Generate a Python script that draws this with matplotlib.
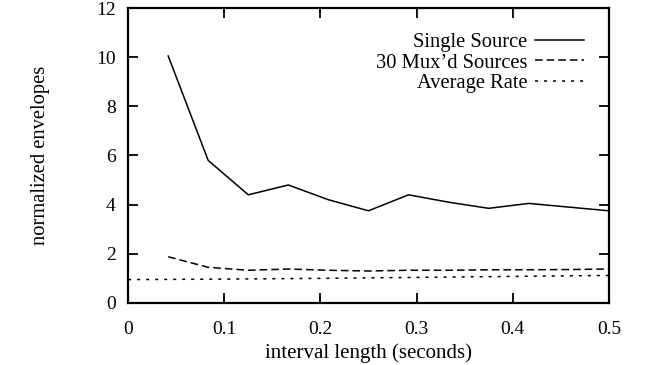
import matplotlib
matplotlib.use("Agg")
import matplotlib.pyplot as plt

interval = [0.0417, 0.0833, 0.125, 0.1667, 0.2083, 0.25, 0.2917, 0.3333, 0.375, 0.4167, 0.4583, 0.5]
single_source = [10.05, 5.8, 4.4, 4.8, 4.2, 3.75, 4.4, 4.1, 3.85, 4.05, 3.9, 3.75]
mux_sources = [1.88, 1.45, 1.33, 1.38, 1.33, 1.3, 1.33, 1.33, 1.35, 1.35, 1.36, 1.38]
avg_x = [0.0, 0.1, 0.2, 0.3, 0.4, 0.5]
avg_rate = [0.95, 0.97, 1.0, 1.04, 1.08, 1.12]

plt.rcParams['font.family'] = ['Liberation Serif', 'DejaVu Serif']

fig = plt.figure(figsize=(6.47, 3.65), dpi=100)
ax = fig.add_axes([0.198, 0.170, 0.743, 0.808])

ax.plot(interval, single_source, color='black', lw=1.1, label='Single Source')
ax.plot(interval, mux_sources, color='black', lw=1.1, dashes=(5, 2.6), label="30 Mux\u2019d Sources")
ax.plot(avg_x, avg_rate, color='black', lw=1.1, dashes=(2, 3.9), label='Average Rate')

ax.set_xlim(0, 0.5)
ax.set_ylim(0, 12)
ax.set_xticks([0, 0.1, 0.2, 0.3, 0.4, 0.5])
ax.set_xticklabels(['0', '0.1', '0.2', '0.3', '0.4', '0.5'])
ax.set_yticks([0, 2, 4, 6, 8, 10, 12])
ax.tick_params(direction='in', top=True, right=True, length=7, width=1.3, labelsize=14)
ax.tick_params(axis='y', pad=9)
ax.tick_params(axis='x', pad=13)
for s in ax.spines.values():
    s.set_linewidth(1.6)

ax.set_xlabel('interval length (seconds)', fontsize=15, labelpad=3.5)
ax.set_ylabel('normalized envelopes', fontsize=14.8, labelpad=33)

leg = ax.legend(loc='upper right', frameon=False, markerfirst=False, fontsize=14.8,
                handlelength=2.4, labelspacing=0.05, borderaxespad=0.8, borderpad=0.4,
                handletextpad=0.35)
for t in leg.get_texts():
    t.set_ha('right')

fig.savefig('out.png', dpi=100)
